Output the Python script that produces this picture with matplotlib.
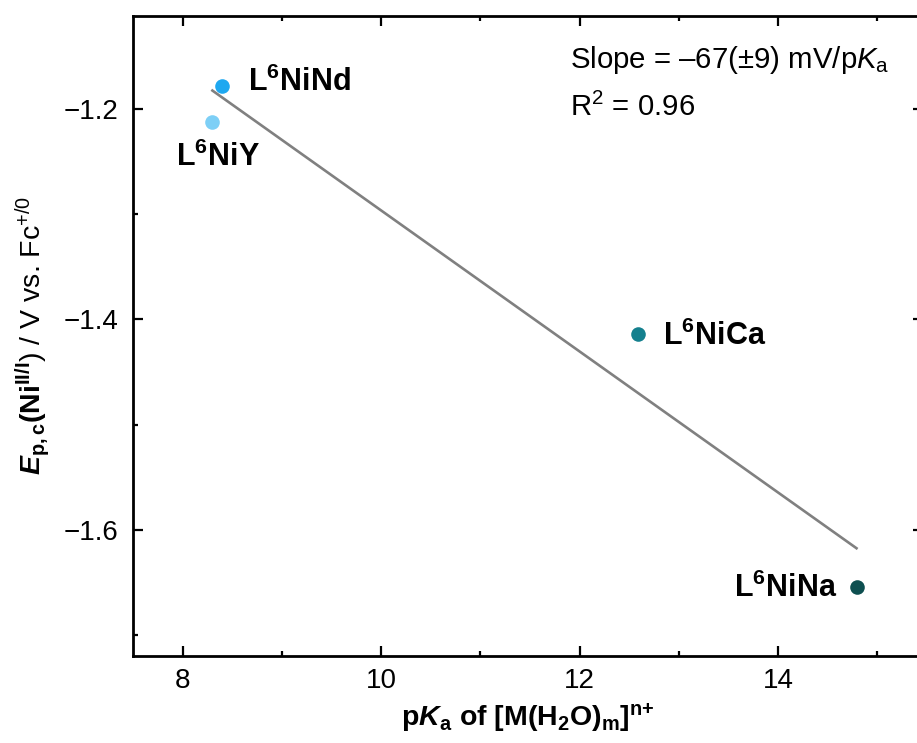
import numpy as np
import matplotlib
matplotlib.use("Agg")
import matplotlib.pyplot as plt
from matplotlib.ticker import MultipleLocator

plt.rcParams["font.family"] = ["Liberation Sans", "DejaVu Sans"]
plt.rcParams["mathtext.fontset"] = "custom"
plt.rcParams["mathtext.rm"] = "Liberation Sans"
plt.rcParams["mathtext.it"] = "Liberation Sans:italic"
plt.rcParams["mathtext.bf"] = "Liberation Sans:bold"
plt.rcParams["mathtext.bfit"] = "Liberation Sans:italic:bold"

# data
labels = ["L$^\\mathbf{6}$NiNd", "L$^\\mathbf{6}$NiY", "L$^\\mathbf{6}$NiCa", "L$^\\mathbf{6}$NiNa"]
pka = [8.40, 8.30, 12.59, 14.79]
epc = [-1.178, -1.212, -1.414, -1.655]
colors = ["#1ea8f0", "#7dcff6", "#14808e", "#0e4f50"]
# label offsets (points) and alignment
offsets = [(18.5, -3.6), (-26.5, -31.5), (18, -7.7), (-13.7, -6.8)]
aligns = ["left", "left", "left", "right"]

x = np.array(pka)
y = np.array(epc)
slope, icpt = np.polyfit(x, y, 1)
xfit = np.array([x.min(), x.max()])
yfit = slope * xfit + icpt

W, H = 917, 743
fig = plt.figure(figsize=(W / 100, H / 100), dpi=100)
ax = fig.add_axes([133 / W, (H - 655.7) / H, (923 - 133) / W, 640 / H])

ax.plot(xfit, yfit, color="#808080", lw=1.9, zorder=1)
for xi, yi, c in zip(x, y, colors):
    ax.plot(xi, yi, "o", ms=10.5, color=c, mec="none", zorder=2)
for xi, yi, lab, off, ha in zip(x, y, labels, offsets, aligns):
    ax.annotate(lab, (xi, yi), xytext=off, textcoords="offset points",
                ha=ha, va="baseline", fontsize=22, fontweight="bold")

ax.text(0.553, 0.918, "Slope = \u201367(\u00b19) mV/p$\\mathit{K}_\\mathrm{a}$",
        transform=ax.transAxes, fontsize=21.2)
ax.text(0.553, 0.843, "R$^\\mathrm{2}$ = 0.96", transform=ax.transAxes, fontsize=21.2)

ax.set_xlim(7.5, 15.46)
ax.set_ylim(-1.72, -1.111)
ax.xaxis.set_major_locator(MultipleLocator(2))
ax.xaxis.set_minor_locator(MultipleLocator(1))
ax.yaxis.set_major_locator(MultipleLocator(0.2))
ax.yaxis.set_minor_locator(MultipleLocator(0.1))
ax.tick_params(which="both", direction="in", top=True, right=True, width=1.6, labelsize=20)
ax.tick_params(which="major", length=7.5)
ax.tick_params(which="minor", length=3.5)
ax.tick_params(axis="x", pad=8.5)
ax.tick_params(axis="y", pad=10.5)
for s in ax.spines.values():
    s.set_linewidth(2)

ax.set_xlabel("p$\\mathbfit{K}_\\mathbf{a}$ of [M(H$_\\mathbf{2}$O)$_\\mathbf{m}$]$^\\mathbf{n{+}}$",
              fontsize=20.5, fontweight="bold", labelpad=6)
ax.set_ylabel("$\\mathbfit{E}_\\mathbf{p,c}\\mathbf{(Ni^{II/I}}$) / V vs. Fc$^\\mathrm{+/0}$",
              fontsize=20.5, labelpad=8)

fig.savefig("out.png", dpi=100)
